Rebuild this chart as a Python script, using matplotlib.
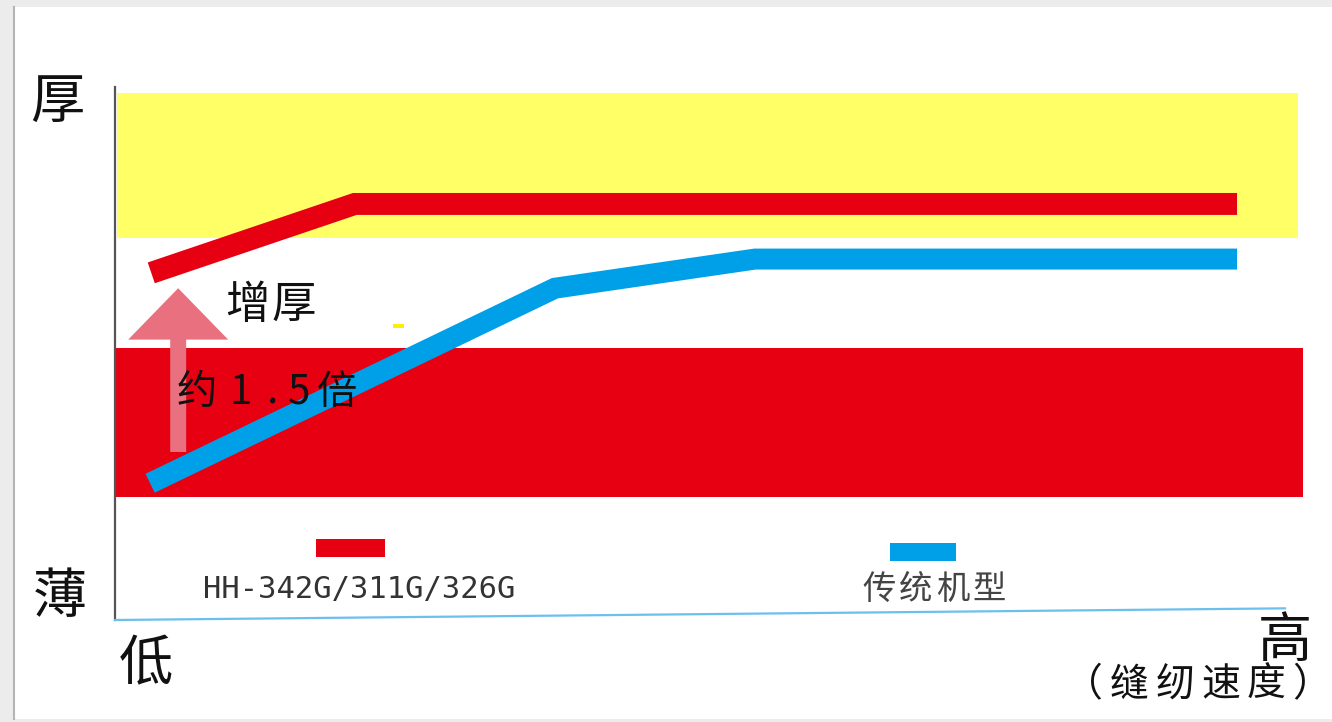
import matplotlib
matplotlib.use('Agg')
import matplotlib.pyplot as plt
from matplotlib.patches import FancyArrowPatch, Rectangle

plt.rcParams['font.family'] = ['Noto Sans CJK SC', 'DejaVu Sans']

# Data (speed 0..100 on x, thickness 0..100 on y)
speed_new = [3.1, 20.5, 95.9]
thick_new = [65.5, 78.5, 78.5]
speed_old = [3.0, 37.6, 54.7, 95.9]
thick_old = [25.8, 62.6, 68.1, 68.1]
thick_zone = [72.1, 99.4]     # yellow band
thin_zone = [23.2, 51.3]      # red band
zone_end = [101.1, 101.5]
gain_from, gain_to = 31.7, 62.6
labels = ['HH-342G/311G/326G', '传统机型']

RED = '#e60012'
BLUE = '#00a0e9'
YELLOW = '#ffff66'


def spaced_text(ax, x0, step, y, s, **kw):
    # Place glyphs one by one with a fixed pitch (the source uses wide spacing)
    if not isinstance(step, (list, tuple)):
        step = [x0 + i * step for i in range(len(s))]
    for x, ch in zip(step, s):
        ax.text(x, y, ch, ha='center', va='center', **kw)


fig = plt.figure(figsize=(13.32, 7.22), dpi=100, facecolor='#ececec')

# White sheet with a grey left edge
fig.add_artist(Rectangle((14 / 1332, 3 / 722), 1 - 14 / 1332, 712 / 722,
                         transform=fig.transFigure, facecolor='white',
                         edgecolor='none', zorder=-10))
fig.add_artist(plt.Line2D([13.5 / 1332, 13.5 / 1332], [3 / 722, 715 / 722],
                          transform=fig.transFigure, color='#b5b5b5', lw=1.5,
                          zorder=-9))

ax = fig.add_axes([115 / 1332, 102 / 722, 1170 / 1332, 530 / 722])
ax.set_xlim(0, 100)
ax.set_ylim(0, 100)
ax.axis('off')

# Bands
ax.fill_between([0.2, zone_end[0]], thick_zone[0], thick_zone[1], color=YELLOW,
                lw=0, clip_on=False, zorder=1)
ax.fill_between([0, zone_end[1]], thin_zone[0], thin_zone[1], color=RED,
                lw=0, clip_on=False, zorder=1)
ax.add_patch(Rectangle((23.8, 55.1), 0.9, 0.8, color='#ffee00', lw=0, zorder=1))

# Axes lines
ax.plot([0, 0], [0, 100.5], color='#555555', lw=1.6, clip_on=False, zorder=2)
ax.plot([0, 100], [0, 2.2], color='#6cc0ee', lw=1.6, clip_on=False, zorder=2)

# Series
ax.plot(speed_new, thick_new, color=RED, lw=15.8, solid_capstyle='butt',
        solid_joinstyle='miter', zorder=4)
ax.plot(speed_old, thick_old, color=BLUE, lw=15.1, solid_capstyle='butt',
        solid_joinstyle='miter', zorder=4)

# Gain arrow
arrow = FancyArrowPatch((5.4, gain_from), (5.4, gain_to),
                        arrowstyle='simple,head_length=37,head_width=72,tail_width=11.5',
                        mutation_scale=1, shrinkA=0, shrinkB=0,
                        color='#e9717f', lw=0, zorder=3)
ax.add_patch(arrow)

# Legend
ax.add_patch(Rectangle((17.2, 11.9), 5.9, 3.4, color=RED, lw=0, clip_on=False))
ax.add_patch(Rectangle((66.2, 11.1), 5.7, 3.4, color=BLUE, lw=0, clip_on=False))
ax.text(7.5, 5.7, labels[0], family='DejaVu Sans Mono', fontsize=22,
        color='#333333', ha='left', va='center')
spaced_text(ax, 65.3, 3.15, 5.8, labels[1], fontsize=24, weight='light',
            color='#444444')

# Annotations
spaced_text(ax, 11.3, 4.0, 59.4, '增厚', fontsize=32, weight='light',
            color='#111111', zorder=5)
spaced_text(ax, 0, [7.0, 10.7, 13.5, 15.7, 19.0], 43.0, '约1.5倍', fontsize=29,
            weight='light', color='#111111', zorder=5)

# Axis words
big = dict(fontsize=39, weight='light', color='#111111', ha='center',
           va='center', clip_on=False)
ax.text(-4.9, 97.5, '厚', **big)
ax.text(-4.7, 4.2, '薄', **big)
ax.text(2.6, -8.5, '低', **big)
ax.text(100.0, -4.0, '高', **big)
spaced_text(ax, 82.8, 3.9, -12.3, '（缝纫速度）', fontsize=28, weight='light',
            color='#111111', clip_on=False)

fig.savefig('out.png', dpi=100, facecolor=fig.get_facecolor())
